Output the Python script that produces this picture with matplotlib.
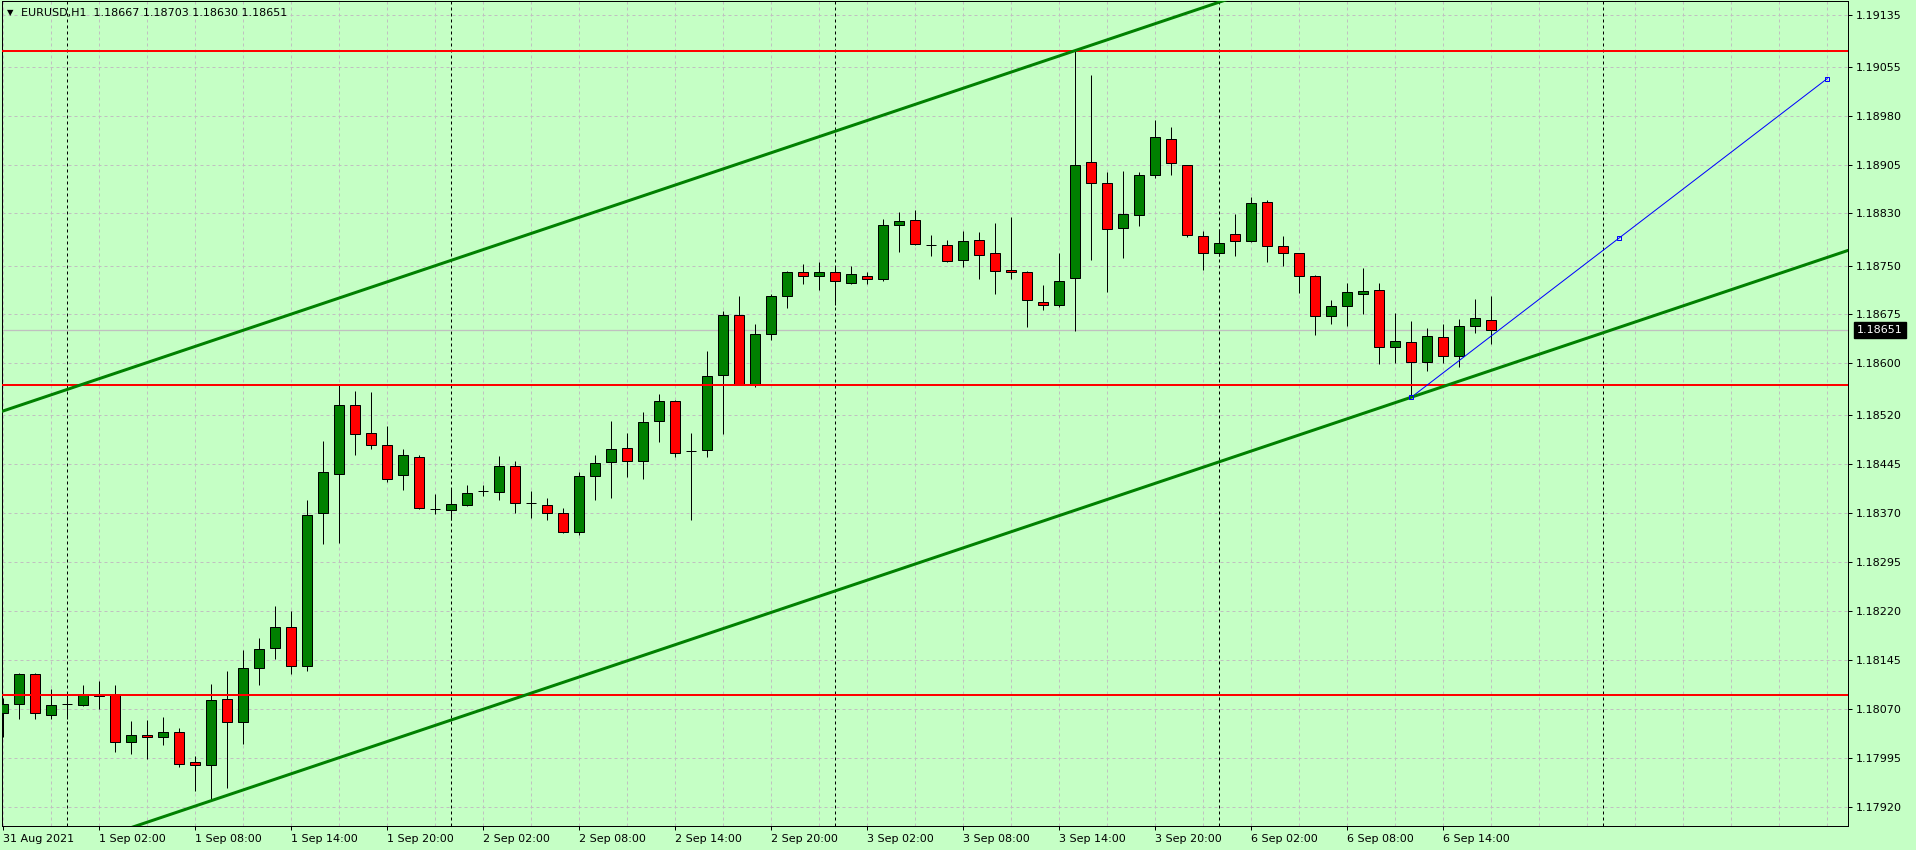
import numpy as np
import matplotlib.pyplot as plt
import matplotlib.transforms as mtrans

# EURUSD H1, one candle per hour, first candle = 31 Aug 2021 20:00
opens = [1.18063, 1.18077, 1.18123, 1.18061, 1.18077, 1.18075, 1.18089, 1.18092, 1.18019, 1.18029,
         1.18026, 1.18034, 1.17988, 1.17983, 1.18085, 1.18049, 1.18132, 1.18163, 1.18195, 1.18136,
         1.18370, 1.18430, 1.18536, 1.18493, 1.18474, 1.18428, 1.18457, 1.18377, 1.18375, 1.18382,
         1.18404, 1.18402, 1.18442, 1.18385, 1.18382, 1.18371, 1.18341, 1.18427, 1.18448, 1.18470,
         1.18450, 1.18511, 1.18542, 1.18466, 1.18467, 1.18582, 1.18674, 1.18568, 1.18645, 1.18703,
         1.18740, 1.18734, 1.18740, 1.18723, 1.18734, 1.18729, 1.18813, 1.18820, 1.18782, 1.18781,
         1.18758, 1.18789, 1.18769, 1.18743, 1.18740, 1.18694, 1.18689, 1.18731, 1.18909, 1.18876,
         1.18807, 1.18827, 1.18889, 1.18945, 1.18904, 1.18795, 1.18769, 1.18798, 1.18787, 1.18847,
         1.18780, 1.18769, 1.18734, 1.18672, 1.18688, 1.18707, 1.18712, 1.18625, 1.18632, 1.18602,
         1.18640, 1.18612, 1.18657, 1.18667]
highs = [1.18086, 1.18125, 1.18125, 1.18100, 1.18095, 1.18106, 1.18113, 1.18106, 1.18051, 1.18053,
         1.18057, 1.18040, 1.17998, 1.18108, 1.18128, 1.18160, 1.18178, 1.18228, 1.18220, 1.18390,
         1.18481, 1.18567, 1.18558, 1.18556, 1.18504, 1.18469, 1.18459, 1.18399, 1.18408, 1.18413,
         1.18414, 1.18458, 1.18450, 1.18404, 1.18393, 1.18378, 1.18433, 1.18459, 1.18511, 1.18493,
         1.18526, 1.18553, 1.18543, 1.18493, 1.18619, 1.18681, 1.18703, 1.18660, 1.18706, 1.18741,
         1.18752, 1.18756, 1.18750, 1.18749, 1.18740, 1.18821, 1.18832, 1.18836, 1.18797, 1.18789,
         1.18803, 1.18801, 1.18815, 1.18824, 1.18741, 1.18720, 1.18770, 1.19080, 1.19042, 1.18893,
         1.18895, 1.18893, 1.18973, 1.18962, 1.18905, 1.18803, 1.18806, 1.18829, 1.18855, 1.18850,
         1.18795, 1.18770, 1.18735, 1.18697, 1.18723, 1.18746, 1.18723, 1.18678, 1.18665, 1.18655,
         1.18660, 1.18668, 1.18698, 1.18703]
lows = [1.18027, 1.18054, 1.18054, 1.18055, 1.18055, 1.18074, 1.18069, 1.18004, 1.18000, 1.17993,
        1.18015, 1.17980, 1.17944, 1.17929, 1.17948, 1.18016, 1.18107, 1.18147, 1.18124, 1.18128,
        1.18323, 1.18324, 1.18460, 1.18468, 1.18418, 1.18405, 1.18377, 1.18369, 1.18359, 1.18381,
        1.18396, 1.18391, 1.18371, 1.18362, 1.18359, 1.18339, 1.18337, 1.18391, 1.18394, 1.18426,
        1.18423, 1.18480, 1.18457, 1.18359, 1.18457, 1.18492, 1.18567, 1.18564, 1.18636, 1.18685,
        1.18721, 1.18713, 1.18690, 1.18721, 1.18722, 1.18726, 1.18771, 1.18781, 1.18765, 1.18756,
        1.18748, 1.18729, 1.18707, 1.18730, 1.18656, 1.18682, 1.18687, 1.18650, 1.18758, 1.18710,
        1.18762, 1.18810, 1.18884, 1.18889, 1.18794, 1.18743, 1.18764, 1.18765, 1.18786, 1.18755,
        1.18750, 1.18708, 1.18643, 1.18661, 1.18658, 1.18676, 1.18599, 1.18601, 1.18548, 1.18589,
        1.18600, 1.18595, 1.18647, 1.18630]
closes = [1.18077, 1.18124, 1.18063, 1.18075, 1.18077, 1.18091, 1.18092, 1.18019, 1.18029, 1.18026,
          1.18035, 1.17986, 1.17983, 1.18083, 1.18049, 1.18132, 1.18161, 1.18195, 1.18136, 1.18368,
          1.18434, 1.18536, 1.18491, 1.18474, 1.18422, 1.18459, 1.18378, 1.18377, 1.18384, 1.18401,
          1.18404, 1.18442, 1.18385, 1.18385, 1.18371, 1.18341, 1.18427, 1.18447, 1.18468, 1.18450,
          1.18510, 1.18542, 1.18462, 1.18466, 1.18580, 1.18674, 1.18568, 1.18645, 1.18704, 1.18740,
          1.18734, 1.18740, 1.18726, 1.18737, 1.18729, 1.18812, 1.18818, 1.18783, 1.18782, 1.18757,
          1.18787, 1.18767, 1.18741, 1.18740, 1.18697, 1.18689, 1.18726, 1.18905, 1.18876, 1.18806,
          1.18829, 1.18889, 1.18947, 1.18907, 1.18797, 1.18769, 1.18784, 1.18787, 1.18846, 1.18780,
          1.18769, 1.18734, 1.18672, 1.18688, 1.18709, 1.18711, 1.18625, 1.18634, 1.18602, 1.18642,
          1.18612, 1.18657, 1.18669, 1.18651]

price_labels = ['1.19135', '1.19055', '1.18980', '1.18905', '1.18830', '1.18750', '1.18675', '1.18600',
                '1.18520', '1.18445', '1.18370', '1.18295', '1.18220', '1.18145', '1.18070', '1.17995',
                '1.17920']
time_labels = ['31 Aug 2021', '1 Sep 02:00', '1 Sep 08:00', '1 Sep 14:00', '1 Sep 20:00', '2 Sep 02:00',
               '2 Sep 08:00', '2 Sep 14:00', '2 Sep 20:00', '3 Sep 02:00', '3 Sep 08:00', '3 Sep 14:00',
               '3 Sep 20:00', '6 Sep 02:00', '6 Sep 08:00', '6 Sep 14:00']
time_label_bars = [0, 6, 12, 18, 24, 30, 36, 42, 48, 54, 60, 66, 72, 78, 84, 90]
day_start_bars = [4, 28, 52, 76, 100]

red_levels = [1.19080, 1.18567, 1.18091]
channel_bars = [13, 88]          # lower channel line through these lows
channel_prices = [1.17929, 1.18548]
channel_top_bar = 67             # parallel line through this high
channel_top_price = 1.19080
blue_bars = [88, 114]
blue_prices = [1.18548, 1.19037]
last_price = 1.18651
header = 'EURUSD,H1  1.18667 1.18703 1.18630 1.18651'

W, H = 1916, 850
bg = '#C5FFC5'
px = 0.72  # one pixel in points

fig = plt.figure(figsize=(W / 100, H / 100), dpi=100, facecolor=bg)
ax = fig.add_axes([2 / W, 24 / H, 1846 / W, 825 / H], facecolor=bg)

o = np.array(opens)
h = np.array(highs)
l = np.array(lows)
c = np.array(closes)
bars = np.arange(len(o))
cols = np.where(c > o, '#008000', '#FF0000')

# candles
ax.vlines(bars, l, h, color='black', lw=px, zorder=3)
ax.bar(bars, np.abs(c - o), bottom=np.minimum(o, c), width=0.63, color=cols,
       edgecolor='black', linewidth=px, zorder=4)

# grid, separators, bid line
x0, x1 = (2 - 3.3) / 16, (1848 - 3.3) / 16
ax.set_xlim(x0, x1)
ax.set_ylim(1.178901, 1.191560)
ax.set_yticks([float(s) for s in price_labels])
ax.set_yticklabels(price_labels)
ax.yaxis.tick_right()
ax.set_xticks(time_label_bars)
ax.set_xticklabels(time_labels, ha='left')
ax.set_xticks(np.arange(0, 116, 3), minor=True)
ax.tick_params(which='minor', length=0)
ax.tick_params(which='major', length=4 * px, width=px, labelsize=8, pad=3, colors='black')
ax.set_axisbelow(True)
ax.grid(which='both', color='#C0C0C0', linestyle=(0, (3, 3)), linewidth=px)
for b in day_start_bars:
    ax.axvline(b, color='black', lw=px, linestyle=(0, (3, 3)), zorder=1)
ax.axhline(last_price, color='#C0C0C0', lw=px * 1.3, zorder=1.5)
for s in ax.spines.values():
    s.set_linewidth(px)
    s.set_color('black')

# objects
for lv in red_levels:
    ax.axhline(lv, color='#FF0000', lw=2 * px, zorder=5)
ax.plot(blue_bars, blue_prices, color='#0000FF', lw=px, zorder=5.5)
slope = (channel_prices[1] - channel_prices[0]) / (channel_bars[1] - channel_bars[0])
xs = np.array([x0 - 1, x1 + 1])
ax.plot(xs, channel_prices[0] + slope * (xs - channel_bars[0]), color='#008000', lw=3 * px, zorder=6)
ax.plot(xs, channel_top_price + slope * (xs - channel_top_bar), color='#008000', lw=3 * px, zorder=6)
bx = [blue_bars[0], (blue_bars[0] + blue_bars[1]) / 2, blue_bars[1]]
by = [blue_prices[0], (blue_prices[0] + blue_prices[1]) / 2, blue_prices[1]]
ax.plot(bx, by, 's', ms=4 * px, mfc='none', mec='#0000FF', mew=px, zorder=7)

# current price box on the axis
tr = mtrans.blended_transform_factory(ax.transAxes, ax.transData)
ax.text(1 + 9 / 1846, last_price, '%.5f' % last_price, transform=tr, ha='left', va='center',
        fontsize=8, color='white', clip_on=False,
        bbox=dict(boxstyle='square,pad=0.25', fc='black', ec='black'))

# header
fig.text(7 / W, 1 - 12.7 / H, '\u25bc', fontsize=6, va='center', ha='left', color='black')
fig.text(21 / W, 1 - 12.7 / H, header, fontsize=8, va='center', ha='left', color='black')

fig.savefig('out.png', dpi=100, facecolor=bg)
